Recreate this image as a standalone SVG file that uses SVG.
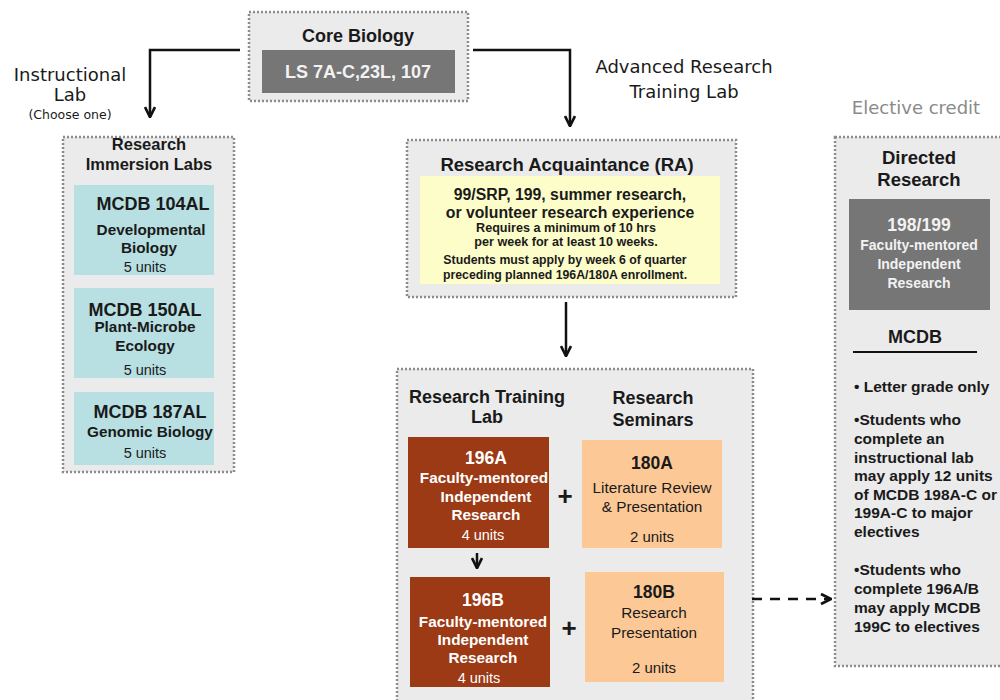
<svg xmlns="http://www.w3.org/2000/svg" width="1000" height="700" viewBox="0 0 1000 700">
<defs>
<style>
.frame{fill:#ebebeb;stroke:#8c8c8c;stroke-width:2.5;stroke-dasharray:2 2}
.b{font-family:"Liberation Sans",Arial,sans-serif;font-weight:bold;text-anchor:middle}
.r{font-family:"Liberation Sans",Arial,sans-serif;text-anchor:middle}
.v{font-family:"DejaVu Sans",Verdana,sans-serif;text-anchor:middle;font-size:18px;fill:#1a1a1a}
.dk{fill:#1a1a1a}
.wt{fill:#ffffff}
.teal{fill:#b8dfe2}
.rust{fill:#9c3a15}
.peach{fill:#fcc996}
.con{fill:none;stroke:#111;stroke-width:2.5}
.lft{font-family:"Liberation Sans",Arial,sans-serif;font-weight:bold;font-size:15.5px;fill:#1a1a1a}
</style>
<marker id="ah" viewBox="0 0 10 10" refX="9" refY="5" markerWidth="5" markerHeight="5" orient="auto" markerUnits="strokeWidth">
<path d="M1,1 L9,5 L1,9" fill="none" stroke="#111" stroke-width="2.2"/>
</marker>
</defs>
<rect width="1000" height="700" fill="#ffffff"/>

<g id="label-instructional">
<text class="v" x="70" y="81">Instructional</text>
<text class="v" x="70" y="101">Lab</text>
<text class="v" x="70" y="119" style="font-size:12.5px">(Choose one)</text>
</g>
<g id="label-advanced">
<text class="v" x="684" y="73">Advanced Research</text>
<text class="v" x="684" y="98">Training Lab</text>
</g>
<g id="label-elective">
<text class="v" x="916" y="114" style="fill:#8a8a8a">Elective credit</text>
</g>

<g id="core-biology">
<rect class="frame" x="249" y="12" width="219" height="89"/>
<text class="b dk" x="358" y="42" font-size="18">Core Biology</text>
<rect x="262" y="50" width="193" height="43" fill="#767676"/>
<text class="b" x="358" y="78" font-size="18" fill="#f2f2f2">LS 7A-C,23L, 107</text>
</g>

<g id="research-immersion-labs">
<rect class="frame" x="63" y="137" width="171" height="335"/>
<text class="b dk" x="149" y="150" font-size="16.5">Research</text>
<text class="b dk" x="149" y="170" font-size="16.5">Immersion Labs</text>
<g id="mcdb104al">
<rect class="teal" x="74" y="185" width="140" height="90"/>
<text class="b dk" x="153" y="210" font-size="18">MCDB 104AL</text>
<text class="b dk" x="151" y="235" font-size="15.3">Developmental</text>
<text class="b dk" x="149" y="253" font-size="15.3">Biology</text>
<text class="r dk" x="145" y="272" font-size="14.5">5 units</text>
</g>
<g id="mcdb150al">
<rect class="teal" x="74" y="288" width="140" height="90"/>
<text class="b dk" x="145" y="316" font-size="18">MCDB 150AL</text>
<text class="b dk" x="145" y="332" font-size="15.3">Plant-Microbe</text>
<text class="b dk" x="145" y="351" font-size="15.3">Ecology</text>
<text class="r dk" x="145" y="375" font-size="14.5">5 units</text>
</g>
<g id="mcdb187al">
<rect class="teal" x="74" y="392" width="140" height="73"/>
<text class="b dk" x="150" y="418" font-size="18">MCDB 187AL</text>
<text class="b dk" x="150" y="437" font-size="15.3">Genomic Biology</text>
<text class="r dk" x="145" y="458" font-size="14.5">5 units</text>
</g>
</g>

<g id="research-acquaintance">
<rect class="frame" x="407" y="140" width="329" height="157"/>
<text class="b dk" x="567" y="171" font-size="18.5">Research Acquaintance (RA)</text>
<rect x="420" y="176" width="300" height="108" fill="#fdfdca"/>
<text class="b dk" x="570" y="200" font-size="15.8">99/SRP, 199, summer research,</text>
<text class="b dk" x="570" y="218" font-size="15.8">or volunteer research experience</text>
<text class="b dk" x="566" y="232" font-size="12.6">Requires a minimum of 10 hrs</text>
<text class="b dk" x="566" y="246" font-size="12.6">per week for at least 10 weeks.</text>
<text class="b dk" x="565" y="264" font-size="12.3">Students must apply by week 6 of quarter</text>
<text class="b dk" x="565" y="279" font-size="12.3">preceding planned 196A/180A enrollment.</text>
</g>

<g id="research-training">
<rect class="frame" x="397" y="369" width="356" height="340"/>
<text class="b dk" x="487" y="403" font-size="18">Research Training</text>
<text class="b dk" x="487" y="423" font-size="18">Lab</text>
<text class="b dk" x="653" y="404" font-size="18">Research</text>
<text class="b dk" x="653" y="426" font-size="18">Seminars</text>
<g id="n196a">
<rect class="rust" x="408" y="437" width="141" height="111"/>
<text class="b wt" x="486" y="464" font-size="17.5">196A</text>
<text class="b wt" x="484" y="483" font-size="15.3">Faculty-mentored</text>
<text class="b wt" x="486" y="502" font-size="15.3">Independent</text>
<text class="b wt" x="486" y="520" font-size="15.3">Research</text>
<text class="r wt" x="483" y="540" font-size="14.5">4 units</text>
</g>
<text class="b dk" x="565" y="505" font-size="26">+</text>
<g id="n180a">
<rect class="peach" x="582" y="440" width="140" height="108"/>
<text class="b dk" x="652" y="469" font-size="17.5">180A</text>
<text class="r dk" x="652" y="493" font-size="15.3">Literature Review</text>
<text class="r dk" x="652" y="512" font-size="15.3">&amp; Presentation</text>
<text class="r dk" x="652" y="542" font-size="15">2 units</text>
</g>
<g id="n196b">
<rect class="rust" x="410" y="577" width="140" height="110"/>
<text class="b wt" x="483" y="606" font-size="17.5">196B</text>
<text class="b wt" x="483" y="627" font-size="15.3">Faculty-mentored</text>
<text class="b wt" x="483" y="645" font-size="15.3">Independent</text>
<text class="b wt" x="483" y="663" font-size="15.3">Research</text>
<text class="r wt" x="479" y="683" font-size="14.5">4 units</text>
</g>
<text class="b dk" x="569" y="637" font-size="26">+</text>
<g id="n180b">
<rect class="peach" x="585" y="572" width="139" height="110"/>
<text class="b dk" x="654" y="598" font-size="17.5">180B</text>
<text class="r dk" x="654" y="618" font-size="15.3">Research</text>
<text class="r dk" x="654" y="638" font-size="15.3">Presentation</text>
<text class="r dk" x="654" y="673" font-size="15">2 units</text>
</g>
</g>

<g id="directed-research">
<rect class="frame" x="835" y="137" width="180" height="529"/>
<text class="b dk" x="919" y="164" font-size="18.5">Directed</text>
<text class="b dk" x="919" y="186" font-size="18.5">Research</text>
<rect x="849" y="199" width="141" height="111" fill="#767676"/>
<text class="b" x="919" y="231" font-size="17.5" fill="#f2f2f2">198/199</text>
<text class="b" x="919" y="250" font-size="14" fill="#f2f2f2">Faculty-mentored</text>
<text class="b" x="919" y="269" font-size="14" fill="#f2f2f2">Independent</text>
<text class="b" x="919" y="288" font-size="14" fill="#f2f2f2">Research</text>
<text class="b dk" x="915" y="343" font-size="18">MCDB</text>
<line x1="853" y1="352" x2="977" y2="352" stroke="#111" stroke-width="2.2"/>
<text class="lft" x="854" y="392">• Letter grade only</text>
<text class="lft" x="854" y="425">•Students who</text>
<text class="lft" x="854" y="444">complete an</text>
<text class="lft" x="854" y="463">instructional lab</text>
<text class="lft" x="854" y="481">may apply 12 units</text>
<text class="lft" x="854" y="500">of MCDB 198A-C or</text>
<text class="lft" x="854" y="518">199A-C to major</text>
<text class="lft" x="854" y="537">electives</text>
<text class="lft" x="854" y="575">•Students who</text>
<text class="lft" x="854" y="594">complete 196A/B</text>
<text class="lft" x="854" y="613">may apply MCDB</text>
<text class="lft" x="854" y="632">199C to electives</text>
</g>

<g id="connectors">
<polyline class="con" points="240,50 150,50 150,117" marker-end="url(#ah)"/>
<polyline class="con" points="473,50 570,50 570,126" marker-end="url(#ah)"/>
<line class="con" x1="566" y1="302" x2="566" y2="356" marker-end="url(#ah)"/>
<line class="con" x1="477" y1="553" x2="477" y2="568" marker-end="url(#ah)"/>
<line class="con" x1="752" y1="599" x2="831" y2="599" stroke-dasharray="10 8" marker-end="url(#ah)"/>
</g>
</svg>
